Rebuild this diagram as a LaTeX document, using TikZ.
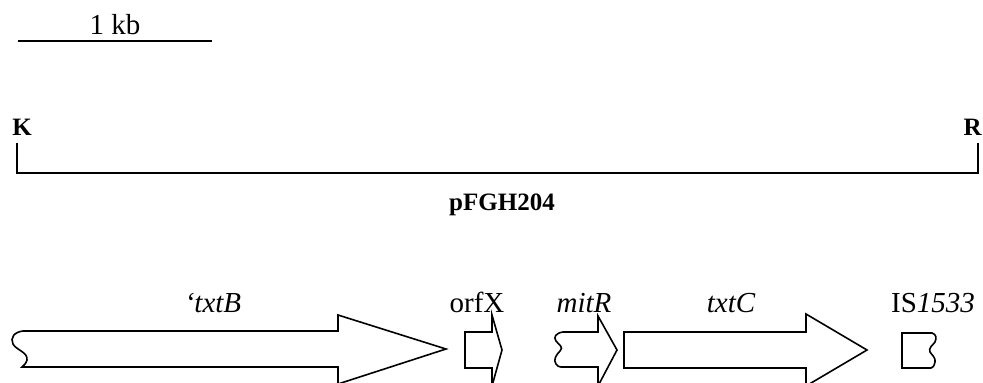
\documentclass[tikz,border=0pt]{standalone}
\usepackage{fontspec}
\setmainfont{Liberation Serif}
\begin{document}
\begin{tikzpicture}[x=1pt,y=-1pt,
  line width=1.5pt, line join=miter,
  lbl/.style={inner sep=0pt, anchor=base, font=\fontsize{29}{34}\selectfont},
  bold/.style={inner sep=0pt, anchor=base, font=\fontsize{25}{30}\selectfont\bfseries},
  gene/.style={draw=black, line width=1.6pt, fill=white}]
\useasboundingbox (0,0) rectangle (983,383);
% scale bar
\coordinate (sbL) at (18,41);
\coordinate (sbR) at (212,41);
\draw[line width=1.4pt] (sbL) -- (sbR);
\node[lbl] (kb) at (115,34) {1 kb};
% insert
\node[bold] (K) at (22,135) {K};
\node[bold, anchor=base east] (R) at (982.5,135) {R};
\coordinate (Ktop) at (17,143);
\coordinate (Kbot) at (17,173);
\coordinate (Rtop) at (978,143);
\coordinate (Rbot) at (978,173);
\draw[line width=1.4pt] (Ktop) -- (Kbot) -- (Rbot) -- (Rtop);
\node[bold] (pf) at (502,210) {pFGH204};
% labels
\node[lbl] (txtB) at (213,312) {\itshape `txtB};
\node[lbl] (orfX) at (477,312) {orfX};
\node[lbl] (mitR) at (584,312) {\itshape mitR};
\node[lbl] (txtC) at (731,312) {\itshape txtC};
\node[lbl] (IS) at (933,312) {IS\textit{1533}};
% txtB
\draw[gene] (23,331) -- (338,331) -- (338,315) -- (446,349) -- (338,384) -- (338,367) -- (22,367)
  .. controls (23,366) and (26,364) .. (27,360)
  .. controls (28,352) and (16,350) .. (13,344)
  .. controls (10,338) and (14,332) .. cycle;
% orfX
\draw[gene] (465,332) -- (492,332) -- (492,315) -- (502,350) -- (492,386) -- (492,368) -- (465,368) -- cycle;
% mitR
\draw[gene] (563,332) -- (598,332) -- (598,316) -- (617,350) -- (598,386) -- (598,367) -- (561,367)
  .. controls (559,367) and (557,366) .. (556,364)
  .. controls (553,360) and (556,355) .. (560,351)
  .. controls (564,347) and (559,345) .. (556,341)
  .. controls (553,337) and (556,333) .. cycle;
% txtC
\draw[gene] (624,332) -- (806,332) -- (806,314) -- (867,350) -- (806,386) -- (806,368) -- (624,368) -- cycle;
% IS1533
\draw[gene] (902,333) -- (932,333)
  .. controls (936,334) and (937,338) .. (935,342)
  .. controls (933,345) and (928,348) .. (930,352)
  .. controls (932,355) and (936,358) .. (935,362)
  .. controls (934,366) and (933,368) .. (931,368)
  -- (902,368) -- cycle;
\end{tikzpicture}
\end{document}
